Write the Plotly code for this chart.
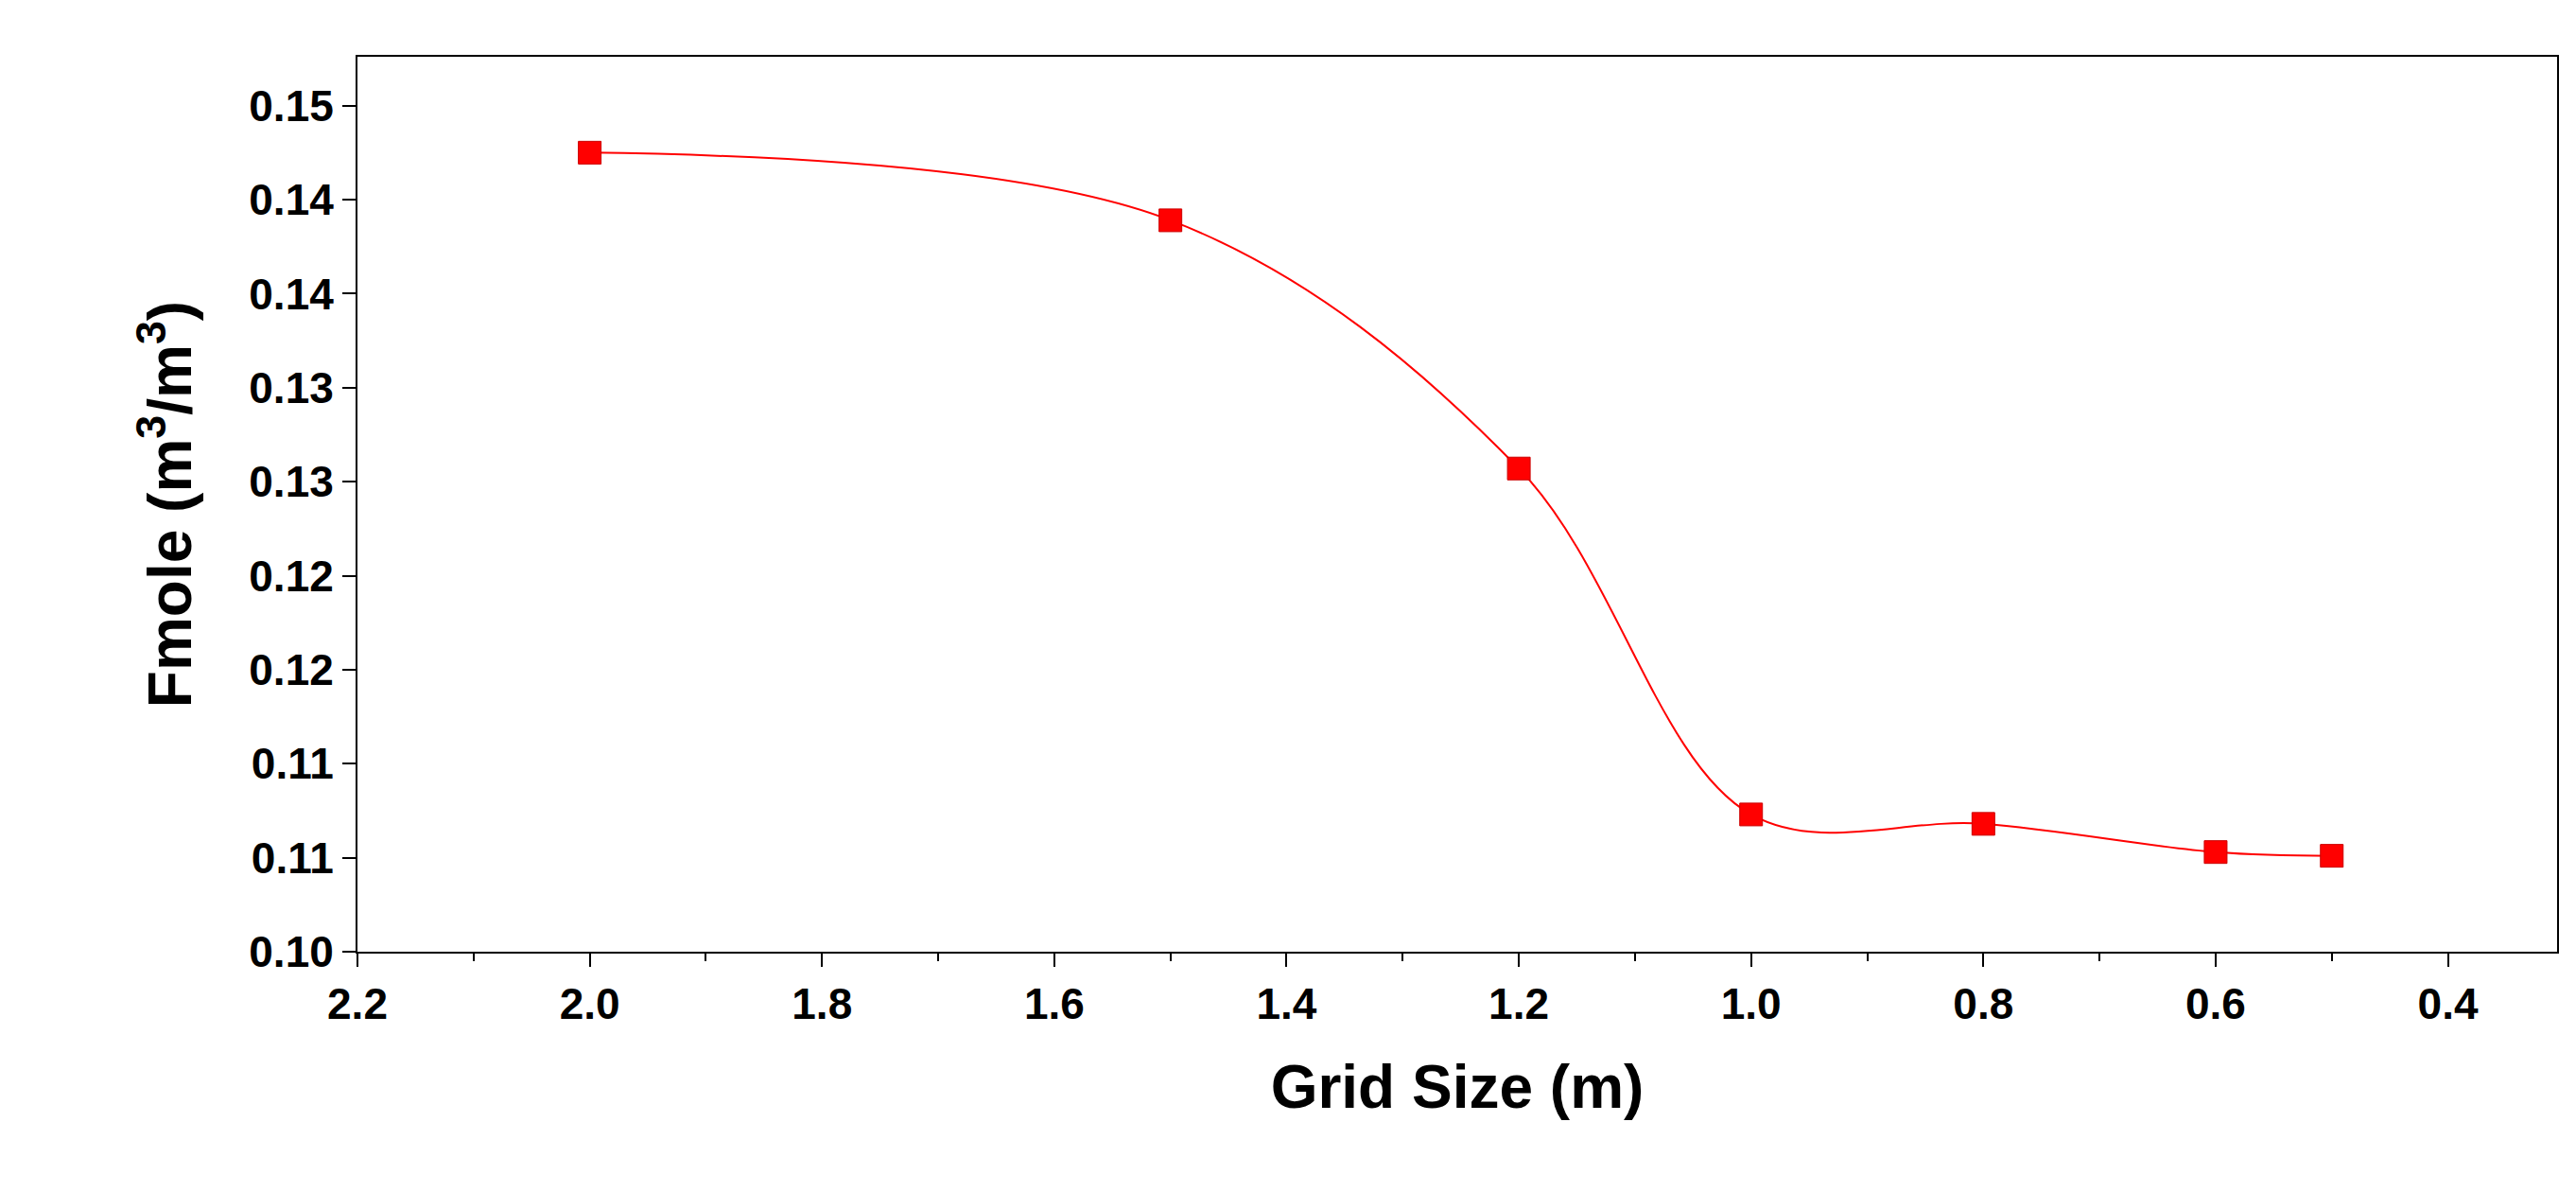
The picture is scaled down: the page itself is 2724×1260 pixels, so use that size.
import plotly.graph_objects as go

grid_size = [2.0, 1.5, 1.2, 1.0, 0.8, 0.6, 0.5]
fmole = [0.1425, 0.1389, 0.1257, 0.1073, 0.1068, 0.1053, 0.1051]
y_tickvals = [0.100, 0.105, 0.110, 0.115, 0.120, 0.125, 0.130, 0.135, 0.140, 0.145]
y_ticktext = ["0.10", "0.11", "0.11", "0.12", "0.12", "0.13", "0.13", "0.14", "0.14", "0.15"]
x_tickvals = [2.2, 2.0, 1.8, 1.6, 1.4, 1.2, 1.0, 0.8, 0.6, 0.4]
x_ticktext = ["2.2", "2.0", "1.8", "1.6", "1.4", "1.2", "1.0", "0.8", "0.6", "0.4"]

fig = go.Figure(go.Scatter(
    x=grid_size, y=fmole, mode="lines+markers",
    line=dict(color="#ff0000", width=2, shape="spline", smoothing=1.0),
    marker=dict(symbol="square", size=24, color="#ff0000", line=dict(color="#cc0000", width=1)),
))
font = "Liberation Sans, Arial, sans-serif"
fig.update_layout(
    width=2724, height=1260, plot_bgcolor="white", paper_bgcolor="white",
    margin=dict(l=370, r=28, t=52, b=262), showlegend=False,
    font=dict(family=font, color="black"),
)
fig.update_xaxes(
    range=[2.2, 0.306], tickvals=x_tickvals, ticktext=x_ticktext,
    showgrid=False, zeroline=False, showline=True, linecolor="black", linewidth=2, mirror=True,
    ticks="outside", ticklen=14, tickwidth=2, tickcolor="black",
    minor=dict(dtick=0.1, ticks="outside", ticklen=8, tickwidth=2, tickcolor="black"),
    tickfont=dict(size=46, family=font, weight="bold"),
    title=dict(text="<b>Grid Size (m)</b>", font=dict(size=64, family=font), standoff=40),
)
fig.update_yaxes(
    range=[0.100, 0.1476], tickvals=y_tickvals, ticktext=y_ticktext,
    showgrid=False, zeroline=False, showline=True, linecolor="black", linewidth=2, mirror=True,
    ticks="outside", ticklen=14, tickwidth=2, tickcolor="black",
    tickfont=dict(size=46, family=font, weight="bold"),
    title=dict(text="<b>Fmole (m<sup>3</sup>/m<sup>3</sup>)</b>", font=dict(size=64, family=font), standoff=40),
)
fig.write_html("out.html")
